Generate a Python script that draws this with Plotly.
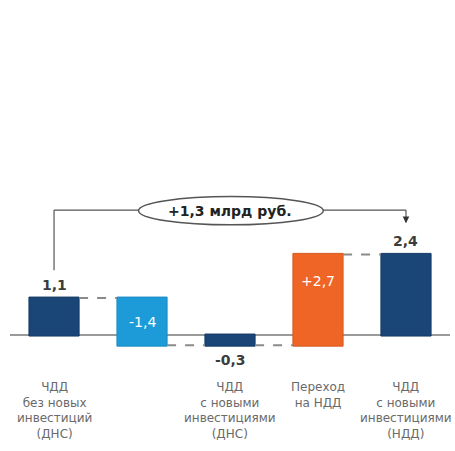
import plotly.graph_objects as go

categories = ["ЧДД<br>без новых<br>инвестиций<br>(ДНС)", "",
              "ЧДД<br>с новыми<br>инвестициями<br>(ДНС)",
              "Переход<br>на НДД",
              "ЧДД<br>с новыми<br>инвестициями<br>(НДД)"]
values = [1.1, -1.4, -0.3, 2.7, 2.4]
measures = ["absolute", "relative", "total", "relative", "total"]
value_labels = ["1,1", "-1,4", "-0,3", "+2,7", "2,4"]
delta_label = "+1,3 млрд руб."

NAVY = "#1a4677"
LIGHT = "#1d9bd8"
ORANGE = "#ef6526"
GRAY_TXT = "#6a6a6a"
FONT = "DejaVu Sans, Verdana, sans-serif"

x = list(range(len(values)))

fig = go.Figure()
fig.add_trace(go.Waterfall(
    x=x, y=values, measure=measures, width=0.57,
    increasing=dict(marker=dict(color=ORANGE, line=dict(color="#d4581e", width=1))),
    decreasing=dict(marker=dict(color=LIGHT, line=dict(color="#1a8cc4", width=1))),
    totals=dict(marker=dict(color=NAVY, line=dict(color="#153a64", width=1))),
    connector=dict(mode="between", line=dict(color="#8a8a8a", width=2, dash="dash")),
    textposition="none", hoverinfo="skip", showlegend=False,
))

# running levels for label positioning
ends = []
run = 0.0
for v, m in zip(values, measures):
    if m != "total":
        run += v
    ends.append(run)
starts = [0.0 if m in ("absolute", "total") else ends[i] - values[i] for i, m in enumerate(measures)]

ann = []
for i, lab in enumerate(value_labels):
    lo, hi = min(starts[i], ends[i]), max(starts[i], ends[i])
    if measures[i] == "relative":
        ann.append(dict(x=i, y=(lo + hi) / 2 + (0.55 if i == 3 else 0), text=lab, showarrow=False,
                        font=dict(family=FONT, size=14, color="white")))
    elif ends[i] >= 0:
        ann.append(dict(x=i, y=hi, yanchor="bottom", yshift=3, text="<b>" + lab + "</b>",
                        showarrow=False, font=dict(family=FONT, size=14, color="#3c3c3c")))
    else:
        ann.append(dict(x=i, y=lo, yanchor="top", yshift=-5, text="<b>" + lab + "</b>", showarrow=False,
                        font=dict(family=FONT, size=14, color="#3c3c3c")))

for i, c in enumerate(categories):
    if c:
        ann.append(dict(x=i, y=-1.35, yanchor="top", yshift=2, text=c, showarrow=False, align="center",
                        font=dict(family=FONT, size=12, color=GRAY_TXT)))

ann.append(dict(x=2.0, y=3.69, text="<b>" + delta_label + "</b>", showarrow=False,
                font=dict(family=FONT, size=14, color="#222222")))

shapes = [
    dict(type="line", xref="x", yref="y", x0=-0.5, x1=4.5, y0=0, y1=0,
         line=dict(color="#9a9a9a", width=2), layer="below"),
    dict(type="line", x0=0, x1=0, y0=1.93, y1=3.72, line=dict(color="#555555", width=1.2)),
    dict(type="line", x0=0, x1=4, y0=3.72, y1=3.72, line=dict(color="#555555", width=1.2)),
    dict(type="line", x0=4, x1=4, y0=3.72, y1=3.36, line=dict(color="#555555", width=1.2)),
    dict(type="circle", x0=0.96, x1=3.06, y0=3.28, y1=4.12, fillcolor="white",
         line=dict(color="#555555", width=1.5)),
]
ann.append(dict(x=4, y=3.33, ax=4, ay=3.5, xref="x", yref="y", axref="x", ayref="y", text="",
                showarrow=True, arrowhead=2, arrowsize=1.1, arrowwidth=1.2, arrowcolor="#333333"))

fig.update_layout(
    width=455, height=451, margin=dict(l=0, r=0, t=0, b=0),
    paper_bgcolor="white", plot_bgcolor="white",
    xaxis=dict(range=[-0.614, 4.557], visible=False, fixedrange=True),
    yaxis=dict(range=[-3.45, 9.97], visible=False, fixedrange=True),
    annotations=ann, shapes=shapes, showlegend=False,
)
fig.write_html("out.html")
